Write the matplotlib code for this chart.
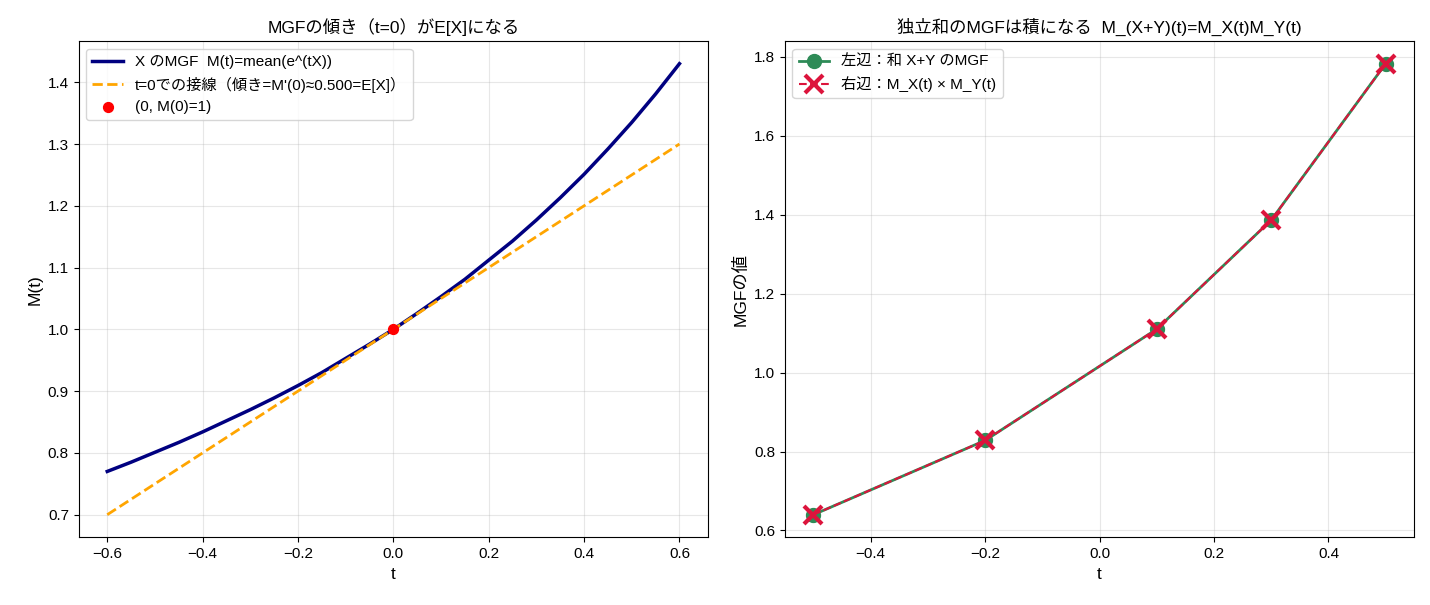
import matplotlib
matplotlib.use("Agg")
import matplotlib.pyplot as plt

plt.rcParams['font.family'] = ['Liberation Sans', 'Noto Sans CJK JP', 'DejaVu Sans']
plt.rcParams['font.size'] = 11
plt.rcParams['axes.titlesize'] = 12.5
plt.rcParams['axes.labelsize'] = 12.5

# --- data ---
t_vals = [-0.60, -0.55, -0.50, -0.45, -0.40, -0.35, -0.30, -0.25, -0.20, -0.15,
          -0.10, -0.05, 0.00, 0.05, 0.10, 0.15, 0.20, 0.25, 0.30, 0.35,
          0.40, 0.45, 0.50, 0.55, 0.60]
mgf_vals = [0.770, 0.785, 0.801, 0.817, 0.834, 0.852, 0.870, 0.889, 0.909, 0.930,
            0.953, 0.976, 1.000, 1.026, 1.053, 1.081, 1.112, 1.143, 1.177, 1.213,
            1.251, 1.292, 1.335, 1.381, 1.430]
tangent_t = [-0.6, 0.6]
tangent_vals = [0.70, 1.30]
point_t = [0.0]
point_val = [1.0]

sum_t = [-0.5, -0.2, 0.1, 0.3, 0.5]
lhs_vals = [0.640, 0.828, 1.110, 1.386, 1.782]
rhs_vals = [0.640, 0.828, 1.110, 1.386, 1.782]

fig, (ax1, ax2) = plt.subplots(1, 2, figsize=(14.3, 6.05), dpi=100)

# left: MGF slope at 0
ax1.plot(t_vals, mgf_vals, color='navy', lw=2.5, label='X のMGF  M(t)=mean(e^(tX))')
ax1.plot(tangent_t, tangent_vals, color='orange', ls='--', lw=2,
         label="t=0での接線（傾き=M'(0)≈0.500=E[X]）")
ax1.scatter(point_t, point_val, color='red', s=50, zorder=5, label='(0, M(0)=1)')
ax1.set_title('MGFの傾き（t=0）がE[X]になる')
ax1.set_xlabel('t')
ax1.set_ylabel('M(t)')
ax1.grid(True, alpha=0.3)
ax1.legend(loc='upper left')

# right: MGF of independent sum
ax2.plot(sum_t, lhs_vals, color='seagreen', marker='o', ms=10, lw=2,
         label='左辺：和 X+Y のMGF')
ax2.plot(sum_t, rhs_vals, color='crimson', marker='x', ms=13, mew=3, ls='--', lw=1.5,
         label='右辺：M_X(t) × M_Y(t)')
ax2.set_title('独立和のMGFは積になる  M_(X+Y)(t)=M_X(t)M_Y(t)')
ax2.set_xlabel('t')
ax2.set_ylabel('MGFの値')
ax2.grid(True, alpha=0.3)
ax2.legend(loc='upper left')

fig.subplots_adjust(left=0.055, right=0.989, top=0.932, bottom=0.112, wspace=0.122)
plt.savefig('out.png')
